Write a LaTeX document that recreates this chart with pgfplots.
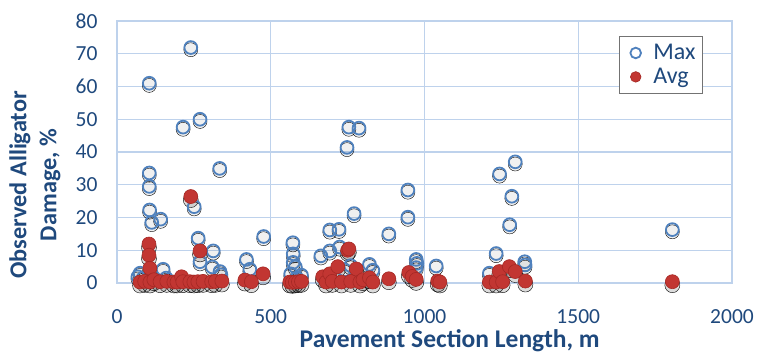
\documentclass[border=0pt]{standalone}
\usepackage{pgfplots}
\pgfplotsset{compat=1.18}
\usepackage{pgfplotstable}
\usepackage{fontspec}
\setmainfont{Carlito}

\definecolor{textblue}{RGB}{31,73,125}
\definecolor{gridblue}{RGB}{190,210,236}
\definecolor{maxblue}{RGB}{79,129,189}
\definecolor{avgred}{RGB}{194,54,50}
\definecolor{avgedge}{RGB}{165,40,36}

% Maximum observed alligator damage per section
\pgfplotstableread{
len  dmg
68   1.9
75   3.0
85   1.5
105  61.0
105  33.6
105  29.5
106  22.3
113  18.5
142  19.5
150  4.2
160  1.5
240  71.9
215  47.6
270  50.0
334  35.0
251  23.3
264  13.7
270  6.5
313  9.8
310  4.9
335  3.5
338  2.5
421  7.2
432  4.2
477  14.2
572  12.3
573  8.9
573  6.3
580  4.9
565  2.8
600  2.4
585  1.5
663  8.3
692  9.8
692  16.2
722  16.4
724  11.0
748  41.4
754  47.6
787  47.3
771  21.2
760  5.3
740  4.0
821  5.7
832  3.9
884  15.0
946  28.4
946  20.1
973  7.2
975  6.0
973  4.7
1038 5.2
1233 9.0
1244 33.3
1295 37.0
1284 26.5
1277 17.8
1326 6.5
1327 5.5
1211 3.0
1806 16.3
}\maxdata

% Average observed alligator damage per section
\pgfplotstableread{
len  dmg
75   0.3
90   0.5
104  11.9
104  8.5
107  4.5
107  0.3
120  1.0
140  0.4
162  0.5
185  0.3
195  0.3
210  1.9
214  0.4
237  0.4
240  26.4
250  0.3
263  0.4
270  9.8
280  0.5
308  0.4
320  0.5
341  0.6
416  0.9
437  0.4
475  2.8
562  0.3
570  0.2
580  0.3
590  0.4
600  0.5
669  1.9
680  0.3
692  2.8
700  0.5
718  5.0
730  0.3
750  10.0
754  10.4
760  0.5
778  4.3
790  0.3
800  1.0
821  1.6
832  0.3
884  1.3
949  3.2
960  2.0
973  1.1
1043 0.6
1050 0.3
1211 0.3
1233 0.3
1243 3.5
1254 0.4
1276 5.0
1295 3.5
1328 0.6
1806 0.4
}\avgdata

\begin{document}
\begin{tikzpicture}
\path[use as bounding box] (-117pt,-71pt) rectangle (640pt,283pt);
\begin{axis}[
  at={(0pt,0pt)}, anchor=south west,
  scale only axis, width=615pt, height=262pt,
  xmin=0, xmax=2000, ymin=0, ymax=80,
  xtick={0,500,...,2000}, ytick={0,10,...,80},
  major tick length=0pt,
  grid=major,
  major grid style={draw=gridblue, line width=1.3pt},
  axis line style={draw=gridblue, line width=1.3pt},
  clip=false,
  /pgf/number format/assume math mode=true,
  /pgf/number format/1000 sep={},
  tick label style={font=\fontsize{21.5}{24}\selectfont, text=textblue},
  xticklabel style={yshift=-23pt},
  yticklabel style={xshift=-16pt},
  xlabel={\bfseries Pavement Section Length, m},
  xlabel style={font=\fontsize{25.5}{28}\selectfont, text=textblue,
    at={(rel axis cs:0.541,0)}, anchor=center, yshift=-58pt},
  ylabel={\bfseries Observed Alligator\\\bfseries Damage, \%},
  ylabel style={font=\fontsize{24.3}{30}\selectfont, text=textblue, align=center,
    at={(axis description cs:-0.1333,0.374)}, anchor=center},
  legend style={at={(rel axis cs:0.953,0.943)}, anchor=north east,
    draw=black!55, line width=1.2pt, fill=white,
    font=\fontsize{24}{26}\selectfont, text=textblue,
    row sep=3pt, inner xsep=5pt, inner ysep=6pt},
  legend cell align=left,
  legend image code/.code={%
    \path (-11pt,0pt) (15pt,0pt);
    \draw[#1, mark size=5.3pt] plot coordinates {(0pt,0pt)};},
]
% soft shadows under the marks
\addplot[only marks, mark=*, mark size=7pt, forget plot,
  mark options={draw=none, fill=black, fill opacity=0.06, yshift=-2.2pt}]
  table[x=len, y=dmg] {\maxdata};
\addplot[only marks, mark=*, mark size=7.5pt, forget plot,
  mark options={draw=none, fill=black, fill opacity=0.14, yshift=-3.5pt}]
  table[x=len, y=dmg] {\avgdata};
% data
\addplot[only marks, mark=o, mark size=6.4pt,
  mark options={draw=maxblue, fill=white, line width=1.8pt}]
  table[x=len, y=dmg] {\maxdata};
\addlegendentry{Max}
\addplot[only marks, mark=*, mark size=7pt,
  mark options={draw=avgedge, fill=avgred, line width=0.6pt}]
  table[x=len, y=dmg] {\avgdata};
\addlegendentry{Avg}
\end{axis}
\end{tikzpicture}
\end{document}
